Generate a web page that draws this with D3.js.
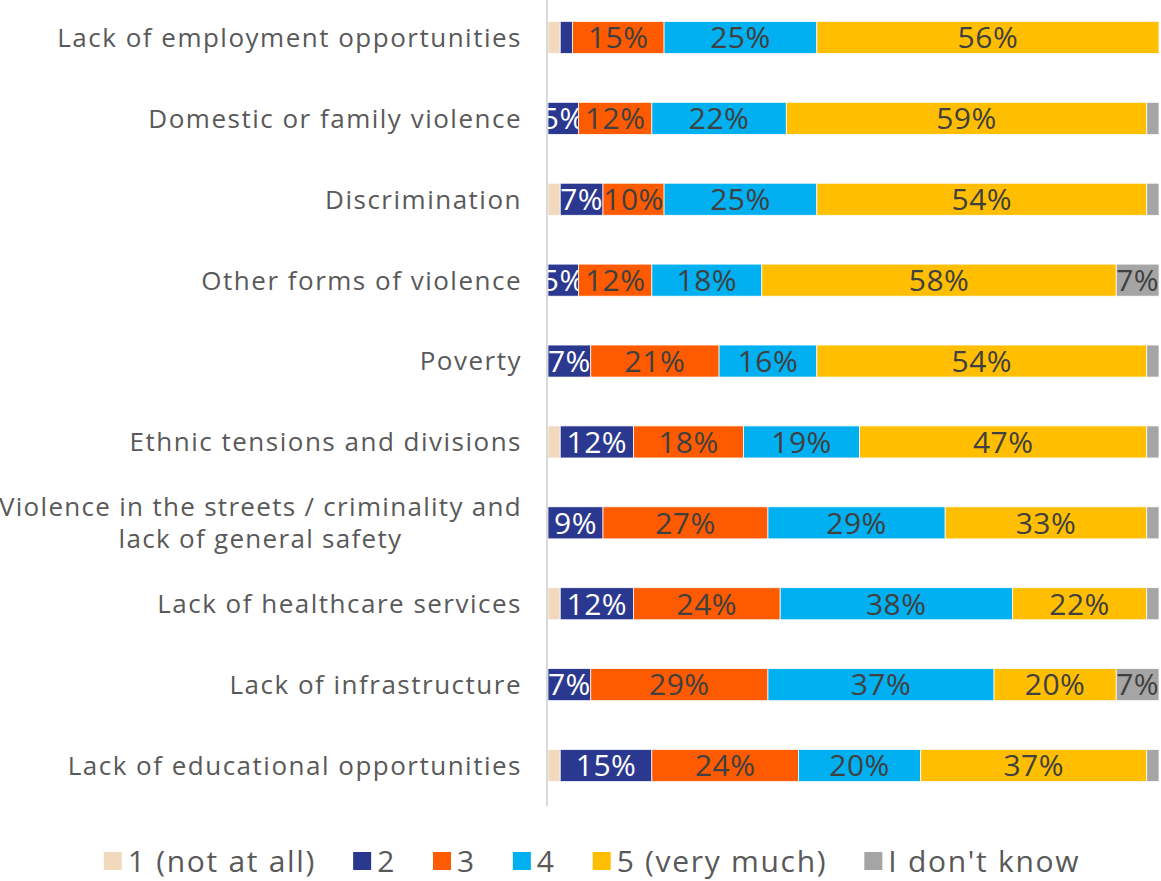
<!DOCTYPE html>
<html>
<head>
<meta charset="utf-8">
<script src="https://cdn.jsdelivr.net/npm/d3@7"></script>
<style>
  html, body { margin: 0; padding: 0; background: #ffffff; }
  svg { display: block; }
  text { font-family: "Open Sans", "Noto Sans", sans-serif; }
</style>
</head>
<body>
<svg id="chart" width="1161" height="881"></svg>
<script>
// Issues, top to bottom
const categories = [
  "Lack of employment opportunities",
  "Domestic or family violence",
  "Discrimination",
  "Other forms of violence",
  "Poverty",
  "Ethnic tensions and divisions",
  "Violence in the streets / criminality and\nlack of general safety",
  "Lack of healthcare services",
  "Lack of infrastructure",
  "Lack of educational opportunities"
];

// Share of answers (%) for each rating
const notAtAll  = [2, 0, 2, 0, 0, 2, 0, 2, 0, 2];
const rating2   = [2, 5, 7, 5, 7, 12, 9, 12, 7, 15];
const rating3   = [15, 12, 10, 12, 21, 18, 27, 24, 29, 24];
const rating4   = [25, 22, 25, 18, 16, 19, 29, 38, 37, 20];
const veryMuch  = [56, 59, 54, 58, 54, 47, 33, 22, 20, 37];
const dontKnow  = [0, 2, 2, 7, 2, 2, 2, 2, 7, 2];

const seriesNames = ["1 (not at all)", "2", "3", "4", "5 (very much)", "I don't know"];
const seriesValues = [notAtAll, rating2, rating3, rating4, veryMuch, dontKnow];
const seriesColors = ["#F1D9BD", "#2B388F", "#FE5A00", "#00B0F0", "#FFBF00", "#A5A5A5"];
const labelColors  = ["#404040", "#FFFFFF", "#404040", "#404040", "#404040", "#404040"];

const svg = d3.select("#chart");
const left = 548, right = 1159;

const rows = categories.map((c, i) => {
  const r = { category: c };
  seriesNames.forEach((s, j) => r[s] = seriesValues[j][i]);
  return r;
});
const stacked = d3.stack().keys(seriesNames)(rows);

const x = d3.scaleLinear().domain([0, 100]).range([left, right]);
const y = d3.scaleBand().domain(categories).range([-3, 806])
  .paddingInner(0.604).paddingOuter(0.302);

svg.append("defs").append("clipPath").attr("id", "plotClip")
  .append("rect").attr("x", left).attr("y", 0).attr("width", right - left + 1).attr("height", 810);

const plot = svg.append("g").attr("clip-path", "url(#plotClip)");

const layers = plot.selectAll("g.layer").data(stacked).join("g")
  .attr("class", "layer")
  .attr("fill", (d, i) => seriesColors[i]);

layers.selectAll("rect").data(d => d).join("rect")
  .attr("x", d => x(d[0]))
  .attr("y", d => y(d.data.category))
  .attr("width", d => x(d[1]) - x(d[0]))
  .attr("height", y.bandwidth())
  .attr("stroke", "#ffffff")
  .attr("stroke-width", 0.75);

// Value labels for segments of 5% and more
layers.each(function(layer, i) {
  d3.select(this).selectAll("text").data(layer.filter(d => d[1] - d[0] >= 5)).join("text")
    .attr("x", d => (x(d[0]) + x(d[1])) / 2)
    .attr("y", d => y(d.data.category) + y.bandwidth() / 2)
    .attr("dy", "0.36em")
    .attr("text-anchor", "middle")
    .attr("font-size", 30)
    .attr("letter-spacing", 0.5)
    .attr("fill", labelColors[i])
    .text(d => (d[1] - d[0]) + "%");
});

// Category axis line
svg.append("line")
  .attr("x1", 547).attr("x2", 547)
  .attr("y1", 0).attr("y2", 806)
  .attr("stroke", "#D9D9D9").attr("stroke-width", 2);

// Category labels: multi-line labels are centred within a right-aligned block
const labelRight = 522;
const catG = svg.append("g");
categories.forEach(c => {
  const lines = c.split("\n");
  const cy = y(c) + y.bandwidth() / 2;
  const lh = 32;
  const spacing = lines.length > 1 ? 1.3 : 1.5;
  const t = catG.append("text")
    .attr("font-size", 26)
    .attr("letter-spacing", spacing)
    .attr("fill", "#595959");
  lines.forEach((ln, k) => {
    t.append("tspan")
      .attr("x", labelRight)
      .attr("y", cy + (k - (lines.length - 1) / 2) * lh)
      .attr("dy", "0.36em")
      .text(ln);
  });
  if (lines.length > 1) {
    const w = d3.max(t.selectAll("tspan").nodes(), n => n.getBBox().width);
    t.attr("text-anchor", "middle");
    t.selectAll("tspan").attr("x", labelRight - w / 2);
  } else {
    t.attr("text-anchor", "end");
  }
});

// Legend
const legend = svg.append("g");
const sq = 18, gapText = 6, gapItem = 37;
let cursor = 0;
seriesNames.forEach((s, i) => {
  const g = legend.append("g");
  g.append("rect").attr("x", 0).attr("y", -sq / 2).attr("width", sq).attr("height", sq)
    .attr("fill", seriesColors[i]);
  const t = g.append("text").attr("x", sq + gapText).attr("y", 0).attr("dy", "0.36em")
    .attr("font-size", 30).attr("letter-spacing", 1.7)
    .attr("fill", "#595959").text(s);
  const w = sq + gapText + t.node().getComputedTextLength();
  g.attr("transform", `translate(${cursor},0)`);
  cursor += w + gapItem;
});
const legendWidth = cursor - gapItem;
legend.attr("transform", `translate(${592 - legendWidth / 2},861)`);
</script>
</body>
</html>
